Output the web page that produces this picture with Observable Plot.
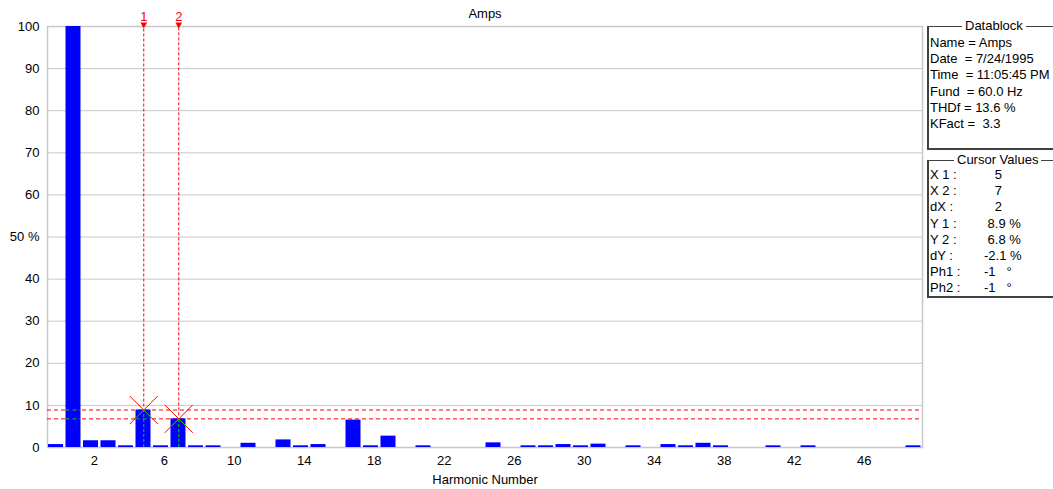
<!DOCTYPE html>
<html>
<head>
<meta charset="utf-8">
<script src="https://cdn.jsdelivr.net/npm/d3@7"></script>
<script src="https://cdn.jsdelivr.net/npm/@observablehq/plot@0.6"></script>
<style>
  html, body { margin: 0; padding: 0; background: #fff; }
  body { width: 1053px; height: 489px; overflow: hidden; position: relative;
         font-family: "Liberation Sans", Arial, sans-serif; font-size: 13px; color: #000; }
  #chart { position: absolute; left: 0; top: 0; }
  .box { position: absolute; left: 927px; width: 140px; box-sizing: border-box;
         border-top: 1px solid #404040; border-left: 2px solid #404040; border-bottom: 2px solid #404040; }
  .leg { position: absolute; top: -9px; background: #fff; padding: 0 3px; line-height: 16px; white-space: pre; }
  .lines { white-space: pre; line-height: 16.2px; padding-left: 1px; }
  .row { position: relative; height: 16.2px; }
  .row .v { position: absolute; left: 54px; top: 0; }
</style>
</head>
<body>
<div id="chart"></div>
<div class="box" id="datablock" style="top:26px;height:124px;">
  <span class="leg" style="left:33px;">Datablock</span>
  <div class="lines" id="dbLines" style="padding-top:8px;"></div>
</div>
<div class="box" id="cursorbox" style="top:160px;height:138px;">
  <span class="leg" style="left:25px;">Cursor Values</span>
  <div class="lines" id="cvLines" style="padding-top:6px;"></div>
</div>
<script>
// ---- data ----
const harmonics = [0,1,2,3,4,5,6,7,8,9,10,11,12,13,14,15,16,17,18,19,20,21,22,23,24,25,26,27,28,29,30,31,32,33,34,35,36,37,38,39,40,41,42,43,44,45,46,47,48,49];
const amps = [0.7,100,1.6,1.6,0.4,8.9,0.4,6.8,0.4,0.4,
              0,1.0,0,1.8,0.4,0.7,0,6.5,0.4,2.7,
              0,0.4,0,0,0,1.1,0,0.4,0.4,0.7,
              0.4,0.8,0,0.4,0,0.7,0.4,1.0,0.4,0,
              0,0.4,0,0.4,0,0,0,0,0,0.4];
const xTicks = [2,6,10,14,18,22,26,30,34,38,42,46];
const yTicks = [0,10,20,30,40,50,60,70,80,90,100];
const cursorNames = ["1","2"];
const cursorX = [5,7];
const cursorY = [8.9,6.8];
const titleText = "Amps";
const xLabel = "Harmonic Number";
const dbLabels = ["Name = Amps","Date  = 7/24/1995","Time  = 11:05:45 PM","Fund  = 60.0 Hz","THDf = 13.6 %","KFact =  3.3"];
const cvLabels = ["X 1 :","X 2 :","dX :","Y 1 :","Y 2 :","dY :","Ph1 :","Ph2 :"];
const cvValues = ["   5","   7","   2"," 8.9 %"," 6.8 %","-2.1 %","-1   °","-1   °"];

// ---- build ----
const RED = "#ff0000", GREEN = "#00d000", BLUE = "#0000ff";
const bars = harmonics.map((h, i) => ({h, v: amps[i]}));
const cursors = cursorNames.map((n, i) => ({n, x: cursorX[i], y: cursorY[i]}));
const hSegs = cursors.flatMap(c => bars.filter(b => b.v > c.y).map(b => ({h: b.h, y: c.y})));

const crossSym = {draw(ctx, size) {
  const r = Math.sqrt(size / Math.PI);
  ctx.moveTo(-r, -r); ctx.lineTo(r, r);
  ctx.moveTo(r, -r); ctx.lineTo(-r, r);
}};
const lowerHalfSym = {draw(ctx, size) {
  const r = Math.sqrt(size / Math.PI) / 2;
  ctx.moveTo(0, 0); ctx.lineTo(r, r);
  ctx.moveTo(0, 0); ctx.lineTo(-r, r);
}};

const chart = Plot.plot({
  width: 926, height: 489,
  marginLeft: 47, marginRight: 4, marginTop: 26, marginBottom: 42,
  style: {fontFamily: "'Liberation Sans', Arial, sans-serif", fontSize: "13px", background: "white", color: "black", overflow: "visible"},
  x: {type: "linear", domain: [-0.5, 49.5]},
  y: {type: "linear", domain: [0, 100]},
  marks: [
    Plot.gridY(yTicks, {stroke: "#c8c8c8", strokeOpacity: 1}),
    Plot.frame({stroke: "#c8c8c8", strokeWidth: 1.5}),
    Plot.ruleY(cursors, {y: "y", stroke: RED, strokeDasharray: "4,3"}),
    Plot.rect(bars, {x1: d => d.h - 0.5, x2: d => d.h + 0.5, y1: 0, y2: "v", insetLeft: 1, insetRight: 1.5, fill: BLUE}),
    Plot.ruleY(hSegs, {y: "y", x1: d => d.h - 0.5, x2: d => d.h + 0.5, insetLeft: 1, insetRight: 1.5, stroke: GREEN, strokeDasharray: "4,3"}),
    Plot.ruleX(cursors, {x: "x", y1: "y", y2: 100, insetTop: -3, stroke: RED, strokeDasharray: "3,2"}),
    Plot.ruleX(cursors, {x: "x", y1: 0, y2: "y", stroke: GREEN, strokeDasharray: "3,2"}),
    Plot.dot(cursors, {x: "x", y: "y", r: 14, symbol: crossSym, stroke: RED, fill: "none", strokeWidth: 1}),
    Plot.dot(cursors, {x: "x", y: "y", r: 14, symbol: lowerHalfSym, stroke: GREEN, fill: "none", strokeWidth: 1}),
    Plot.dot(cursors, {x: "x", y: 100, symbol: "triangle", rotate: 180, r: 2.5, fill: RED, stroke: "none", dy: -2}),
    Plot.text(cursors, {x: "x", y: 100, text: "n", dy: -10, fill: RED, lineAnchor: "middle"}),
    Plot.axisY(yTicks, {tickSize: 0, tickPadding: 8, label: null, tickFormat: d => d === 50 ? "50 %" : String(d)}),
    Plot.axisX(xTicks, {tickSize: 0, tickPadding: 8, dx: 3, label: null, tickFormat: d => String(d)}),
    Plot.text([titleText], {frameAnchor: "top", lineAnchor: "middle", dy: -13}),
    Plot.text([xLabel], {frameAnchor: "bottom", lineAnchor: "middle", dy: 32})
  ]
});
document.getElementById("chart").appendChild(chart);

const db = document.getElementById("dbLines");
dbLabels.forEach(t => { const d = document.createElement("div"); d.className = "row"; d.textContent = t; db.appendChild(d); });
const cv = document.getElementById("cvLines");
cvLabels.forEach((t, i) => {
  const d = document.createElement("div"); d.className = "row";
  const a = document.createElement("span"); a.textContent = t;
  const b = document.createElement("span"); b.className = "v"; b.textContent = cvValues[i];
  d.appendChild(a); d.appendChild(b); cv.appendChild(d);
});
</script>
</body>
</html>
